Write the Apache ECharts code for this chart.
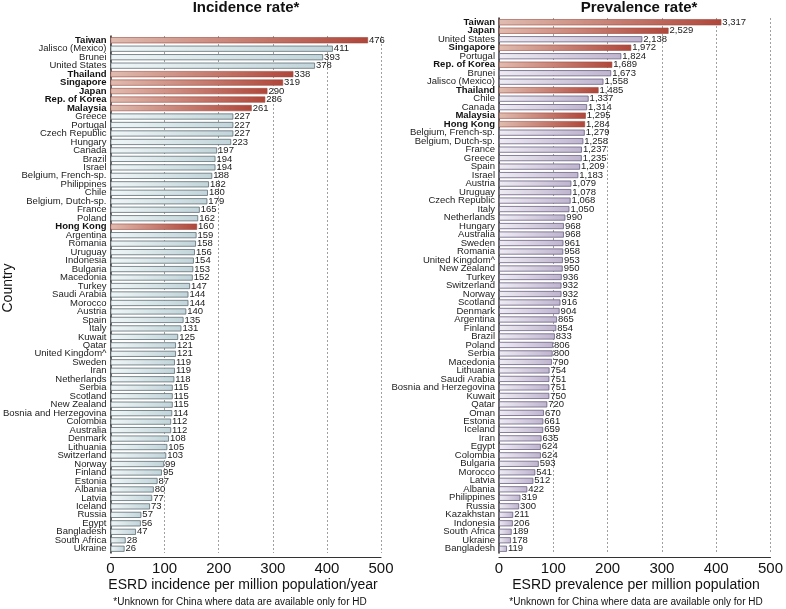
<!DOCTYPE html>
<html>
<head>
<meta charset="utf-8">
<script src="https://cdn.jsdelivr.net/npm/echarts@6/dist/echarts.min.js"></script>
<style>
html,body{margin:0;padding:0;background:#fff;}
#chart{width:786px;height:609px;}
</style>
</head>
<body>
<div id="chart"></div>
<script>
// ---------- DATA ----------
const incCountries = ["Taiwan","Jalisco (Mexico)","Brunei","United States","Thailand","Singapore","Japan","Rep. of Korea","Malaysia","Greece","Portugal","Czech Republic","Hungary","Canada","Brazil","Israel","Belgium, French-sp.","Philippines","Chile","Belgium, Dutch-sp.","France","Poland","Hong Kong","Argentina","Romania","Uruguay","Indonesia","Bulgaria","Macedonia","Turkey","Saudi Arabia","Morocco","Austria","Spain","Italy","Kuwait","Qatar","United Kingdom^","Sweden","Iran","Netherlands","Serbia","Scotland","New Zealand","Bosnia and Herzegovina","Colombia","Australia","Denmark","Lithuania","Switzerland","Norway","Finland","Estonia","Albania","Latvia","Iceland","Russia","Egypt","Bangladesh","South Africa","Ukraine"];
const incValues = [476,411,393,378,338,319,290,286,261,227,227,227,223,197,194,194,188,182,180,179,165,162,160,159,158,156,154,153,152,147,144,144,140,135,131,125,121,121,119,119,118,115,115,115,114,112,112,108,105,103,99,95,87,80,77,73,57,56,47,28,26];

const prevCountries = ["Taiwan","Japan","United States","Singapore","Portugal","Rep. of Korea","Brunei","Jalisco (Mexico)","Thailand","Chile","Canada","Malaysia","Hong Kong","Belgium, French-sp.","Belgium, Dutch-sp.","France","Greece","Spain","Israel","Austria","Uruguay","Czech Republic","Italy","Netherlands","Hungary","Australia","Sweden","Romania","United Kingdom^","New Zealand","Turkey","Switzerland","Norway","Scotland","Denmark","Argentina","Finland","Brazil","Poland","Serbia","Macedonia","Lithuania","Saudi Arabia","Bosnia and Herzegovina","Kuwait","Qatar","Oman","Estonia","Iceland","Iran","Egypt","Colombia","Bulgaria","Morocco","Latvia","Albania","Philippines","Russia","Kazakhstan","Indonesia","South Africa","Ukraine","Bangladesh"];
const prevValues = [3317,2529,2138,1972,1824,1689,1673,1558,1485,1337,1314,1295,1284,1279,1258,1237,1235,1209,1183,1079,1078,1068,1050,990,968,968,961,958,953,950,936,932,932,916,904,865,854,833,806,800,790,754,751,751,750,720,670,661,659,635,624,624,593,541,512,422,319,300,211,206,189,178,119];

const highlighted = ["Taiwan","Thailand","Singapore","Japan","Rep. of Korea","Malaysia","Hong Kong"];
const xTicks = [0,100,200,300,400,500];
// prevalence axis in the source is drawn on a compressed scale
const prevScale = 8.1;

// ---------- STYLE ----------
const FONT = "Liberation Sans, Arial, Helvetica, sans-serif";
const grad = (a, b) => new echarts.graphic.LinearGradient(0, 0, 1, 0, [{offset:0,color:a},{offset:1,color:b}]);
const redStyle = {color: grad('#e0bcb0', '#b0463a'), borderColor: '#9a4a40', borderWidth: 0.6};
const blueStyle = {color: grad('#f0f6f7', '#c2d5da'), borderColor: '#5e6d73', borderWidth: 0.8};
const purpStyle = {color: grad('#efecf3', '#bfb5cf'), borderColor: '#6a6080', borderWidth: 0.8};

function makeData(cats, vals, normal) {
  return vals.map((v, i) => ({
    value: v,
    itemStyle: highlighted.includes(cats[i]) ? redStyle : normal
  }));
}

const chart = echarts.init(document.getElementById('chart'), null, {renderer: 'canvas'});

function yAxisCfg(idx, cats) {
  return {
    type: 'category', gridIndex: idx, data: cats, inverse: true,
    axisTick: {show: false},
    axisLine: {show: true, lineStyle: {color: '#333', width: 1.5}},
    axisLabel: {
      interval: 0, margin: 4, fontSize: 9.5, fontFamily: FONT, color: '#222',
      formatter: v => highlighted.includes(v) ? '{b|' + v + '}' : v,
      rich: {b: {fontWeight: 'bold', fontSize: 9.5, fontFamily: FONT, color: '#111'}}
    }
  };
}

function xAxisCfg(idx, max, interval, fmt) {
  return {
    type: 'value', gridIndex: idx, min: 0, max: max, interval: interval, offset: 4,
    axisLine: {show: true, lineStyle: {color: '#333', width: 1.2}},
    axisTick: {show: false},
    axisLabel: {fontSize: 15, fontFamily: FONT, color: '#111', margin: 4, formatter: fmt},
    splitLine: {show: true, lineStyle: {type: [2, 2], color: '#888', width: 0.8}}
  };
}

const option = {
  animation: false,
  backgroundColor: '#fff',
  grid: [
    {left: 106, width: 275, top: 36, bottom: 56, containLabel: false},
    {left: 499, width: 275, top: 18, bottom: 56, containLabel: false}
  ],
  xAxis: [
    xAxisCfg(0, 500, 100, v => String(v)),
    xAxisCfg(1, 500 * prevScale, 100 * prevScale, v => String(Math.round(v / prevScale)))
  ],
  yAxis: [yAxisCfg(0, incCountries), yAxisCfg(1, prevCountries)],
  series: [
    {
      type: 'bar', xAxisIndex: 0, yAxisIndex: 0, barWidth: '72%',
      data: makeData(incCountries, incValues, blueStyle),
      label: {show: true, position: 'right', distance: 1, fontSize: 9.5, fontFamily: FONT, color: '#222'}
    },
    {
      type: 'bar', xAxisIndex: 1, yAxisIndex: 1, barWidth: '72%',
      data: makeData(prevCountries, prevValues, purpStyle),
      label: {show: true, position: 'right', distance: 1, fontSize: 9.5, fontFamily: FONT, color: '#222',
        formatter: p => p.value.toLocaleString('en-US')}
    }
  ],
  graphic: [
    {type: 'text', left: 'center', style: {text: ''}},
    {type: 'text', x: 246, y: 8, style: {text: 'Incidence rate*', font: 'bold 15px ' + FONT, fill: '#111', align: 'center', verticalAlign: 'middle'}},
    {type: 'text', x: 639, y: 8, style: {text: 'Prevalence rate*', font: 'bold 15px ' + FONT, fill: '#111', align: 'center', verticalAlign: 'middle'}},
    {type: 'text', x: 8, y: 288, rotation: Math.PI / 2, style: {text: 'Country', font: '14px ' + FONT, fill: '#111', align: 'center', verticalAlign: 'middle'}},
    {type: 'text', x: 243, y: 585, style: {text: 'ESRD incidence per million population/year', font: '14px ' + FONT, fill: '#111', align: 'center', verticalAlign: 'middle'}},
    {type: 'text', x: 636, y: 585, style: {text: 'ESRD prevalence per million population', font: '14px ' + FONT, fill: '#111', align: 'center', verticalAlign: 'middle'}},
    {type: 'text', x: 240, y: 602, style: {text: '*Unknown for China where data are available only for HD', font: '10px ' + FONT, fill: '#111', align: 'center', verticalAlign: 'middle'}},
    {type: 'text', x: 636, y: 602, style: {text: '*Unknown for China where data are available only for HD', font: '10px ' + FONT, fill: '#111', align: 'center', verticalAlign: 'middle'}}
  ]
};
chart.setOption(option);
</script>
</body>
</html>
